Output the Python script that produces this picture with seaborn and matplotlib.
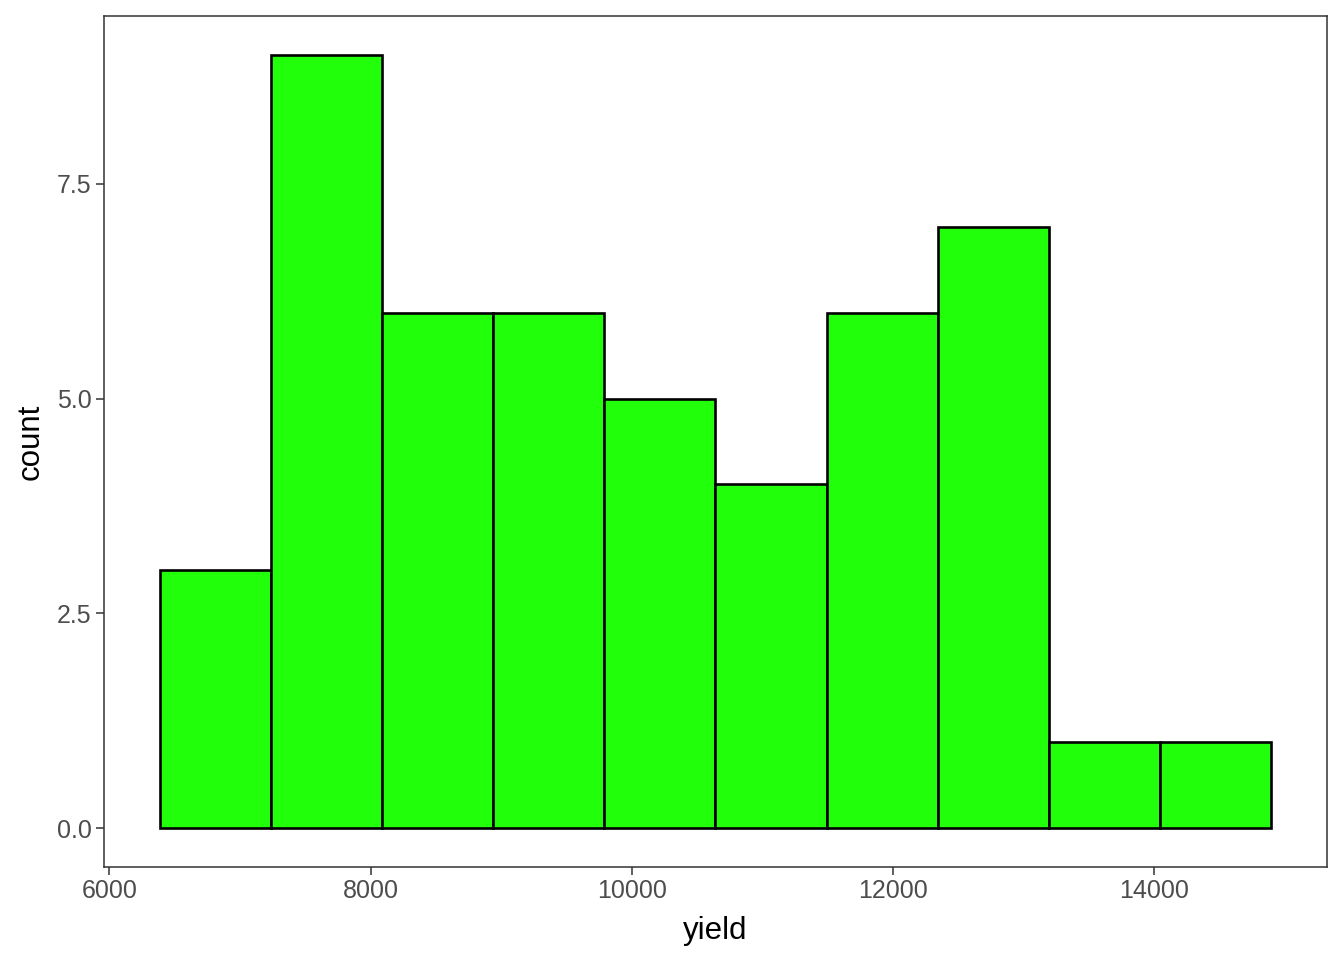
import numpy as np
import pandas as pd
import matplotlib
matplotlib.use('Agg')
import matplotlib.pyplot as plt
import seaborn as sns

# histogram bins
bin_edges = [6385, 7236, 8087, 8939, 9790, 10641, 11492, 12344, 13195, 14046, 14898]
counts = [3, 9, 6, 6, 5, 4, 6, 7, 1, 1]

mids = [(a + b) / 2 for a, b in zip(bin_edges[:-1], bin_edges[1:])]
df = pd.DataFrame({'yield': mids, 'n': counts})

sns.set_theme(style='white')
plt.rcParams['font.family'] = ['Liberation Sans', 'DejaVu Sans']

fig = plt.figure(figsize=(13.44, 9.6), dpi=100)
ax = fig.add_axes([104 / 1344, 1 - 867 / 960, (1327 - 104) / 1344, (867 - 16) / 960])

sns.histplot(data=df, x='yield', weights='n', bins=bin_edges,
             color='#22FF0A', edgecolor='black', linewidth=1.9, alpha=1, ax=ax)

span = bin_edges[-1] - bin_edges[0]
ax.set_xlim(bin_edges[0] - 0.05 * span, bin_edges[-1] + 0.05 * span)
ax.set_ylim(-0.45, 9.45)
ax.set_xticks([6000, 8000, 10000, 12000, 14000])
ax.set_yticks([0, 2.5, 5, 7.5])
ax.set_yticklabels(['0.0', '2.5', '5.0', '7.5'])

for s in ax.spines.values():
    s.set_color('#333333')
    s.set_linewidth(1.1)
ax.tick_params(axis='both', which='major', length=5.5, width=1.1, color='#333333',
               labelsize=18, labelcolor='#4D4D4D', pad=3.5, bottom=True, left=True)
ax.set_xlabel('yield', fontsize=22.5, color='black', labelpad=9)
ax.set_ylabel('count', fontsize=22.5, color='black', labelpad=8)
ax.grid(False)

fig.savefig('out.png', dpi=100)
